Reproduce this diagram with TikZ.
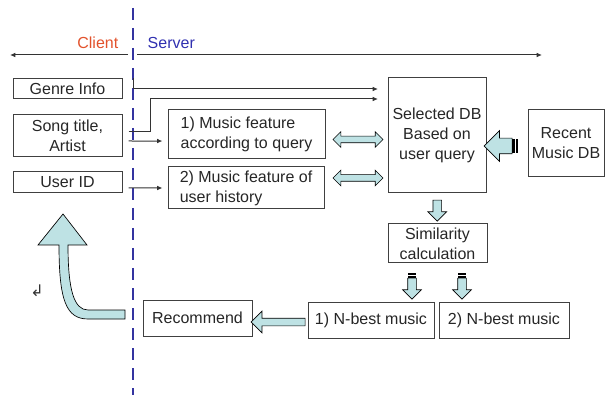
\documentclass[tikz,border=0pt]{standalone}
\usepackage{fontspec}
\setmainfont{Liberation Sans}
\newfontfamily\symfont{DejaVu Sans}
\usetikzlibrary{arrows.meta, shapes.arrows, calc}

\definecolor{fatblue}{RGB}{190,226,228}
\definecolor{clientred}{RGB}{226,82,44}
\definecolor{serverblue}{RGB}{48,48,176}
\definecolor{divblue}{RGB}{52,52,160}
\newcommand{\pxu}{0.75pt}

\tikzset{
    box/.style = {draw = black!75, line width = 0.75pt, inner sep = 0pt,
        align = center, text = black!85, font = \fontsize{12}{15}\selectfont},
    conn/.style = {draw = black!80, line width = 0.75pt,
        -{Latex[length = 4pt, width = 3.5pt]}},
    fat/.style = {draw = black, fill = fatblue, line width = 0.5pt, inner sep = 0pt},
    stripe/.style = {fill = black}
}

\begin{document}
\begin{tikzpicture}[x = 0.75pt, y = -0.75pt]
    \useasboundingbox (0, 0) rectangle (605, 398);

% The border between the client part and the server part.
    \draw [divblue, line width = 1.5pt, dash pattern = on 9pt off 6pt] (133, 8) -- (133, 395);
    \node [anchor = east, text = clientred, font = \fontsize{12}{15}\selectfont] (client) at (123, 43) {Client};
    \node [anchor = west, text = serverblue, font = \fontsize{12}{15}\selectfont] (server) at (143, 43) {Server};

    \coordinate (leftend) at (10, 55);
    \coordinate (leftstart) at (128, 55);
    \coordinate (rightstart) at (137, 55);
    \coordinate (rightend) at (542, 55);
    \draw [conn] (leftstart) -- (leftend);
    \draw [conn] (rightstart) -- (rightend);

% Client side boxes.
    \node [box, minimum width = 109*\pxu, minimum height = 20*\pxu] (genre) at (67.5, 89) {Genre Info};
    \node [box, minimum width = 109*\pxu, minimum height = 42*\pxu] (song) at (67.5, 136) {Song title,\\Artist};
    \node [box, minimum width = 109*\pxu, minimum height = 21*\pxu] (userid) at (67.5, 182.5) {User ID};

% Server side boxes.
    \node [box, align = left, minimum width = 157*\pxu, minimum height = 49*\pxu] (feat1) at (246.5, 134.5)
        {1) Music feature\\according to query};
    \node [box, align = left, minimum width = 156*\pxu, minimum height = 42*\pxu] (feat2) at (246, 188)
        {2) Music feature of\\user history};
    \node [box, minimum width = 98*\pxu, minimum height = 115*\pxu] (seldb) at (437, 135.5)
        {Selected DB\\Based on\\user query};
    \node [box, minimum width = 76*\pxu, minimum height = 67*\pxu] (recent) at (566, 143.5)
        {Recent\\Music DB};
    \node [box, minimum width = 99*\pxu, minimum height = 39*\pxu] (simil) at (437.5, 243.5)
        {Similarity\\calculation};
    \node [box, minimum width = 126*\pxu, minimum height = 36*\pxu] (nbest1) at (371, 320) {1) N-best music};
    \node [box, minimum width = 130*\pxu, minimum height = 36*\pxu] (nbest2) at (504, 320) {2) N-best music};
    \node [box, minimum width = 109*\pxu, minimum height = 36*\pxu] (recom) at (197.5, 318) {Recommend};

% Thin connectors.
    \coordinate (gstart) at (133, 78);
    \coordinate (gend) at (378, 89);
    \coordinate (sbend) at (150, 99);
    \coordinate (send) at (378, 99);
    \draw [conn] (gstart) |- (gend);
    \draw [conn] ([xshift = 4.5pt, yshift = 3pt]song.east) -| (sbend) -- (send);
    \draw [conn] ([xshift = 4.5pt, yshift = -3.75pt]song.east) -- ([xshift = -3.75pt, yshift = -4.9pt]feat1.west);
    \draw [conn] ([xshift = 4.5pt, yshift = -4.1pt]userid.east) -- ([xshift = -3.75pt]feat2.west);

% Block arrows.
    \node [fat, double arrow, minimum height = 50*\pxu, inner ysep = 3*\pxu,
        double arrow head extend = 4.5*\pxu] (dbl1) at ($(feat1.east)!0.5!(seldb.west) + (1.5, 4.5)$) {};
    \node [fat, double arrow, minimum height = 50*\pxu, inner ysep = 3*\pxu,
        double arrow head extend = 4.5*\pxu] (dbl2) at ($(feat2.east -| feat1.east)!0.5!(feat2.east -| seldb.west) + (1.5, -10)$) {};

    \node [fat, single arrow, shape border rotate = 180, minimum height = 28*\pxu,
        inner ysep = 7.5*\pxu, single arrow head extend = 7.5*\pxu] (recarrow) at (502, 146) {};
    \fill [stripe] ([yshift = 5.6pt]recarrow.tail) rectangle ([xshift = 2pt, yshift = -5.6pt]recarrow.tail);
    \fill [stripe] ([xshift = 2.6pt, yshift = 5.6pt]recarrow.tail) rectangle ([xshift = 4.5pt, yshift = -5.6pt]recarrow.tail);

    \node [fat, single arrow, shape border rotate = 270, minimum height = 21*\pxu,
        inner sep = 4*\pxu, single arrow head extend = 5*\pxu] (simarrow) at ($(seldb.south)!0.5!(simil.north)$) {};

    \foreach \name/\x in {nb1/412, nb2/462} {
        \node [fat, single arrow, shape border rotate = 270, minimum height = 21*\pxu,
            inner sep = 4*\pxu, single arrow head extend = 5*\pxu] (\name) at (\x, 286.5) {};
        \fill [stripe] ([xshift = -3pt]\name.tail) rectangle ([xshift = 3pt, yshift = 1.6pt]\name.tail);
        \fill [stripe] ([xshift = -3pt, yshift = 2.2pt]\name.tail) rectangle ([xshift = 3pt, yshift = 3.8pt]\name.tail);
    }

    \node [fat, single arrow, shape border rotate = 180, minimum height = 54*\pxu,
        inner ysep = 3.5*\pxu, single arrow head extend = 7*\pxu] (recomarrow) at ($(nbest1.west)!0.5!(recom.east) + (0, 3)$) {};

% The bent arrow that goes back to the client.
    \draw [fat] (125, 319) -- (88, 319) .. controls (66, 319) and (59, 300) .. (59, 245)
        -- (38, 245) -- (63, 214) -- (87, 245) -- (68, 245)
        .. controls (68, 290) and (74, 310) .. (88, 310) -- (125, 310) -- cycle;

    \node [font = \symfont\fontsize{12}{13}\selectfont, text = black!80] (mark) at (37, 291) {↲};
\end{tikzpicture}
\end{document}
